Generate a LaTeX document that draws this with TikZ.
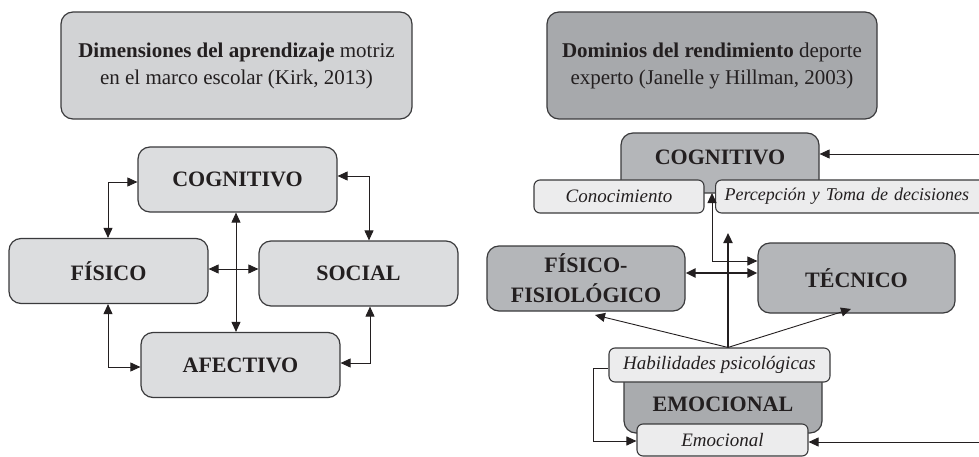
\documentclass[tikz,border=0pt]{standalone}
\usepackage{fontspec}
\setmainfont{Liberation Serif}
\usetikzlibrary{arrows.meta,calc}
\definecolor{ink}{HTML}{231F20}
\definecolor{edge}{HTML}{3A3A3C}
\definecolor{titlelight}{HTML}{D2D3D5}
\definecolor{boxlight}{HTML}{DCDDDF}
\definecolor{titledark}{HTML}{A7A9AC}
\definecolor{boxmid}{HTML}{B4B6B9}
\definecolor{boxdark}{HTML}{A9ABAE}
\definecolor{subfill}{HTML}{ECECED}
\tikzset{
  every node/.style={text=ink, inner sep=0pt},
  tip/.style={-{Triangle[length=10pt,width=9pt]}},
  dtip/.style={{Triangle[length=10pt,width=9pt]}-{Triangle[length=10pt,width=9pt]}},
  thin link/.style={draw=ink, line width=0.9pt},
  thick link/.style={draw=ink, line width=2.2pt},
  panelbox/.style={draw=edge, line width=1.2pt, rounded corners=12pt},
  titlebox/.style={panelbox, minimum width=351pt, minimum height=107pt, align=center, font=\fontsize{21}{27}\selectfont},
  dimbox/.style={panelbox, fill=boxlight, minimum width=199pt, minimum height=65pt, font=\fontsize{22}{26}\selectfont\bfseries},
  rbox/.style={panelbox, fill=boxmid, minimum width=198pt, font=\fontsize{22}{26}\selectfont\bfseries, align=center},
  subbox/.style={draw=edge, line width=1.1pt, rounded corners=6pt, fill=subfill, minimum height=33pt, font=\fontsize{19}{22}\selectfont\itshape},
  boldlbl/.style={font=\fontsize{22}{26}\selectfont\bfseries},
}
\begin{document}
\begin{tikzpicture}[x=1pt,y=-1pt]
\useasboundingbox (0,0) rectangle (979,457);
\clip (0,0) rectangle (979,457);

% ---------- Left panel: Kirk (2013) ----------
\node[titlebox, fill=titlelight] (tL) at (236.5,65.5)
  {\textbf{Dimensiones del aprendizaje} motriz\\en el marco escolar (Kirk, 2013)};
\node[dimbox] (cogL) at (237.5,179.5) {COGNITIVO};
\node[dimbox] (fisL) at (108.5,271) {FÍSICO};
\node[dimbox] (socL) at (358.5,273.5) {SOCIAL};
\node[dimbox] (afeL) at (240.5,365) {AFECTIVO};

\coordinate (bendA) at (108,182);
\coordinate (bendB) at (369,176);
\coordinate (bendC) at (108,367);
\coordinate (bendD) at (370,363);
\coordinate (midX) at (236,269);

\draw[thin link, dtip] (fisL.north -| bendA) |- (cogL.west |- bendA);
\draw[thin link, dtip] (cogL.east |- bendB) -| (socL.north -| bendB);
\draw[thin link, dtip] (fisL.south -| bendC) |- (afeL.west |- bendC);
\draw[thin link, dtip] (socL.south -| bendD) |- (afeL.east |- bendD);
\draw[thin link, dtip] (cogL.south -| midX) -- (afeL.north -| midX);
\draw[thin link, dtip] (fisL.east |- midX) -- (socL.west |- midX);

% ---------- Right panel: Janelle y Hillman (2003) ----------
\node[titlebox, fill=titledark, minimum width=330pt] (tR) at (712,65.5)
  {\textbf{Dominios del rendimiento} deporte\\experto (Janelle y Hillman, 2003)};

% cognitive domain with its two components
\node[rbox, minimum height=60pt] (cogR) at (720,163) {};
\node[boldlbl] (cogRtxt) at (720,157) {COGNITIVO};
\node[subbox, minimum width=170pt] (cono) at (619,196.5) {Conocimiento};
\node[subbox, anchor=west, text width=300pt, align=left, font=\fontsize{18}{22}\selectfont\itshape] (perc) at (715,196.5)
  {\hspace*{9pt}Percepción y Toma de decisiones};

% physical and technical domains
\node[rbox, minimum height=65pt, font=\fontsize{22}{30}\selectfont\bfseries] (fisR) at (586,278.5) {FÍSICO-\\FISIOLÓGICO};
\node[rbox, minimum height=70pt, minimum width=197pt] (tecR) at (856.5,278) {TÉCNICO};

% emotional domain with its two components
\node[panelbox, fill=boxdark, minimum width=198pt, minimum height=70pt] (emoR) at (723,398) {};
\node[boldlbl] (emoRtxt) at (723,404) {EMOCIONAL};
\node[subbox, minimum width=221pt, minimum height=34pt] (habi) at (719.5,365) {Habilidades psicológicas};
\node[subbox, minimum width=171pt, minimum height=32pt] (emoc) at (722.5,440) {Emocional};

% connectors
\coordinate (gap) at (712,193);
\coordinate (cogTec) at (712,261);
\coordinate (stem) at (728,233);
\coordinate (fisTec) at (728,273);
\coordinate (loopL) at (593,368);
\coordinate (loopLow) at (593,441);
\coordinate (farTop) at (979,154);
\coordinate (farLow) at (979,442);

\draw[thin link, dtip] (gap) |- (tecR.west |- cogTec);
\draw[thick link, dtip] (fisR.east |- fisTec) -- (tecR.west |- fisTec);
\draw[thick link, tip] (habi.north -| stem) -- (stem);
\draw[thin link, tip] (habi.north -| stem) -- (595,315);
\draw[thin link, tip] (habi.north -| stem) -- (851,309);
\draw[thin link, tip] (habi.west |- loopL) -| (loopLow) -- (emoc.west |- loopLow);
\draw[thin link, tip] (farTop) -- (cogR.east |- farTop);
\draw[thin link, tip] (farLow) -- (emoc.east |- farLow);
\end{tikzpicture}
\end{document}
